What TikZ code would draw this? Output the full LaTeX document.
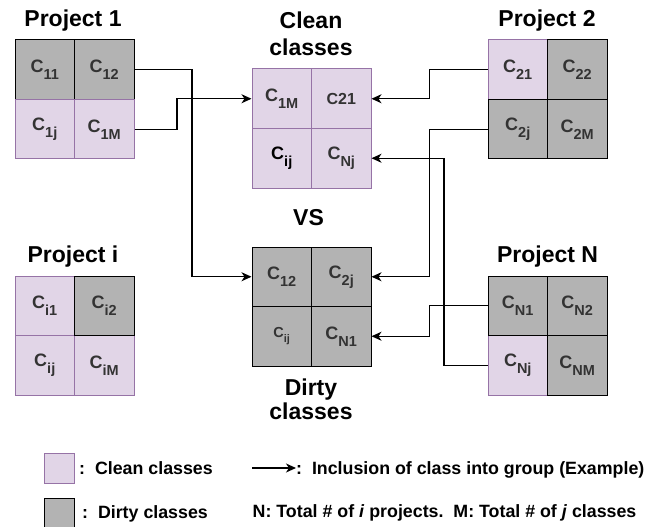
\documentclass[tikz,border=0pt]{standalone}
\usepackage{fontspec}
\setmainfont{Liberation Sans}
\usetikzlibrary{arrows.meta}
\definecolor{cleanfill}{HTML}{E1D5E7}
\definecolor{cleandraw}{HTML}{9673A6}
\definecolor{dirtyfill}{HTML}{B3B3B3}
\definecolor{celltext}{HTML}{333333}
\newcommand{\csub}[1]{C\raisebox{-7pt}{\fontsize{14.5}{14.5}\selectfont #1}}
\newcommand{\csmall}[1]{{\fontsize{14.5}{14.5}\selectfont C\raisebox{-5pt}{\fontsize{11}{11}\selectfont #1}}}
\tikzset{
  cellbase/.style={minimum width=59.5pt, minimum height=59.5pt, inner sep=0pt,
    line width=1pt, font=\bfseries\fontsize{18}{18}\selectfont, text=celltext},
  cleancell/.style={cellbase, fill=cleanfill, draw=cleandraw},
  dirtycell/.style={cellbase, fill=dirtyfill, draw=black},
  titletext/.style={font=\bfseries\fontsize{23}{27}\selectfont, align=center, inner sep=0pt},
  legendtext/.style={font=\bfseries\fontsize{17.8}{21}\selectfont, inner sep=0pt, anchor=base west},
  conn/.style={line width=1.2pt, -{Stealth[length=10pt,width=9pt,inset=3pt]}},
}
\begin{document}
\begin{tikzpicture}[x=1pt,y=-1pt]
\useasboundingbox[fill=white] (0,0) rectangle (657,527);

% ---------- Project 1 ----------
\node[titletext, anchor=base] (t1) at (73,26.5) {Project 1};
\node[dirtycell] (p1a) at (44.75,69.75) {\csub{11}};
\node[dirtycell] (p1b) at (104.25,69.75) {\csub{12}};
\node[cleancell] (p1c) at (44.75,129.25) {\csub{1j}};
\node[cleancell] (p1d) at (104.25,129.25) {\csub{1M}};

% ---------- Project 2 ----------
\node[titletext, anchor=base] (t2) at (547,26.5) {Project 2};
\node[cleancell] (p2a) at (517.75,69.75) {\csub{21}};
\node[dirtycell] (p2b) at (577.25,69.75) {\csub{22}};
\node[dirtycell] (p2c) at (517.75,129.25) {\csub{2j}};
\node[dirtycell] (p2d) at (577.25,129.25) {\csub{2M}};

% ---------- Project i ----------
\node[titletext, anchor=base] (ti) at (73,262.3) {Project i};
\node[cleancell] (pia) at (44.75,305.75) {\csub{i1}};
\node[cleancell] (pic) at (44.75,365.25) {\csub{ij}};
\node[cleancell] (pid) at (104.25,365.25) {\csub{iM}};
\node[dirtycell] (pib) at (104.25,305.75) {\csub{i2}};

% ---------- Project N ----------
\node[titletext, anchor=base] (tN) at (547.5,262.3) {Project N};
\node[cleancell] (pNc) at (517.75,365.25) {\csub{Nj}};
\node[dirtycell] (pNa) at (517.75,305.75) {\csub{N1}};
\node[dirtycell] (pNb) at (577.25,305.75) {\csub{N2}};
\node[dirtycell] (pNd) at (577.25,365.25) {\csub{NM}};

% ---------- Clean classes ----------
\node[titletext, anchor=south] (tc) at (311,55.5) {Clean\\classes};
\node[cleancell] (ca) at (281.75,98.75) {\csub{1M}};
\node[cleancell] (cb) at (341.25,98.75) {{\fontsize{16}{16}\selectfont C21}};
\node[cleancell, text=black] (cc) at (281.75,158.25) {\csub{ij}};
\node[cleancell] (cd) at (341.25,158.25) {\csub{Nj}};

% ---------- VS ----------
\node[titletext, anchor=base] (vs) at (308.5,225) {VS};

% ---------- Dirty classes ----------
\node[dirtycell] (da) at (281.75,276.75) {\csub{12}};
\node[dirtycell] (db) at (341.25,276.75) {\csub{2j}};
\node[dirtycell] (dc) at (281.75,336.25) {\csmall{ij}};
\node[dirtycell] (dd) at (341.25,336.25) {\csub{N1}};
\node[titletext, font=\bfseries\fontsize{23}{24}\selectfont, anchor=south] (td) at (311,419.5) {Dirty\\classes};

% ---------- connector bends ----------
\coordinate (k1) at (192,0);
\coordinate (k2) at (177,0);
\coordinate (k3) at (429.5,0);
\coordinate (k4) at (444,0);

\draw[conn] (p1b.east) -| (k1 |- da.west) -- (da.west);
\draw[conn] (p1d.east) -| (k2 |- ca.west) -- (ca.west);
\draw[conn] (p2a.west) -| (k3 |- cb.east) -- (cb.east);
\draw[conn] (p2c.west) -| (k3 |- db.east) -- (db.east);
\draw[conn] (pNa.west) -| (k3 |- dd.east) -- (dd.east);
\draw[conn] (pNc.west) -| (k4 |- cd.east) -- (cd.east);

% ---------- legend ----------
\node[cleancell, minimum width=30pt, minimum height=30pt] (lgc) at (59,468) {};
\node[dirtycell, minimum width=30pt, minimum height=30pt] (lgd) at (59,513.5) {};
\node[legendtext] (lgct) at (79,474) {:~~Clean classes};
\node[legendtext] (lgdt) at (82,518.5) {:~~Dirty classes};
\coordinate (la) at (252,468);
\node[legendtext] (lgat) at (296,474.3) {:~~Inclusion of class into group (Example)};
\draw[conn] (la) -- (lgat.west |- la);
\node[legendtext] (lgnt) at (252.5,517.5) {N: Total \# of \textit{i} projects.~~M: Total \# of \textit{j} classes};
\end{tikzpicture}
\end{document}
